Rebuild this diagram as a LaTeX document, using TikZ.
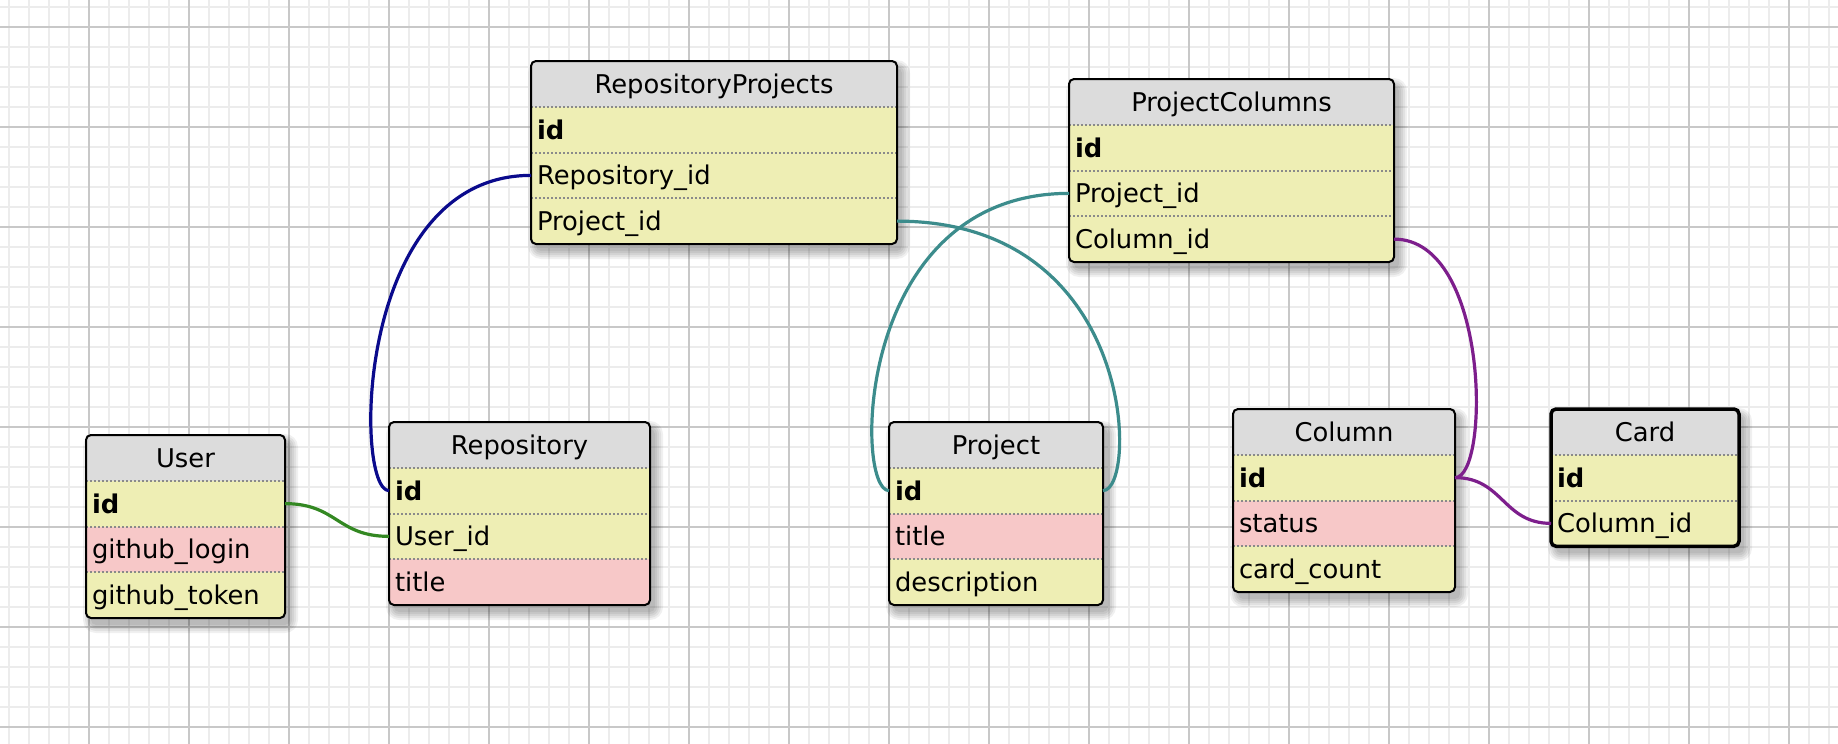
\documentclass[tikz,border=0pt]{standalone}
\usepackage{fontspec}
\setmainfont{DejaVu Sans}
\usetikzlibrary{positioning,calc}
\definecolor{HeadGray}{RGB}{220,220,220}
\definecolor{FieldYellow}{RGB}{238,238,180}
\definecolor{FieldPink}{RGB}{247,200,200}
\definecolor{SepGray}{RGB}{138,138,138}
\definecolor{GridMinor}{RGB}{236,236,236}
\definecolor{GridMajor}{RGB}{200,200,200}
\definecolor{LinkGreen}{RGB}{51,136,34}
\definecolor{LinkNavy}{RGB}{10,10,140}
\definecolor{LinkTeal}{RGB}{60,140,140}
\definecolor{LinkPurple}{RGB}{125,30,140}
\newcommand{\tabfont}{\fontsize{12.9}{15}\selectfont}
\tikzset{
  minorgrid/.style={draw=GridMinor,line width=1pt},
  majorgrid/.style={draw=GridMajor,line width=1pt},
  cell/.style={minimum height=22.875pt,inner xsep=3pt,inner ysep=0pt,
    outer sep=0pt,text height=9.4pt,text depth=0pt,font=\tabfont},
  headcell/.style={cell,fill=HeadGray,align=center},
  keycell/.style={cell,fill=FieldYellow,align=left,font=\tabfont\bfseries},
  fieldcell/.style={cell,fill=FieldYellow,align=left},
  pinkcell/.style={cell,fill=FieldPink,align=left},
  fieldsep/.style={draw=SepGray,line width=1pt,dash pattern=on 1pt off 1pt},
  tableframe/.style={draw=black,line width=1pt,rounded corners=2.5pt},
  link/.style={line width=1.6pt},
  greenlink/.style={link,draw=LinkGreen},
  navylink/.style={link,draw=LinkNavy},
  teallink/.style={link,draw=LinkTeal},
  purplelink/.style={link,draw=LinkPurple}
}
% #1 frame options, #2 name, #3 top left corner, #4 width (px), #5 title, #6 fields
\newcommand{\dbtable}[6][]{%
  \pgfmathsetmacro\tabw{#4/2}%
  \pgfmathsetmacro\txtw{#4/2-6}%
  \foreach \fld/\kind [count=\cnt] in {#6} {\xdef\nrows{\cnt}}%
  \coordinate (#2-nw) at #3;
  \coordinate (#2-se) at ($(#2-nw)+(#4,{-45.75*(\nrows+1)})$);
  % soft shadow
  \foreach \k in {0,...,4} {
    \pgfmathsetmacro\rr{2.5+\k}
    \fill[black,opacity=0.06,rounded corners=\rr pt]
      ($(#2-nw)+({5-2*\k},{-7+2*\k})$) rectangle ($(#2-se)+({5+2*\k},{-7-2*\k})$);
  }
  \begin{scope}
    \clip[rounded corners=2.5pt] (#2-nw) rectangle (#2-se);
    \node[headcell,minimum width=\tabw pt,anchor=north west] (#2-0) at (#2-nw) {#5};
    \foreach \fld/\kind [count=\i, remember=\i as \lasti (initially 0)] in {#6} {
      \node[\kind,minimum width=\tabw pt,text width=\txtw pt,below=0pt of #2-\lasti] (#2-\i) {\fld};
      \draw[fieldsep] (#2-\i.north west) -- (#2-\i.north east);
    }
  \end{scope}
  \draw[tableframe,#1] (#2-nw) rectangle (#2-se);
}

\begin{document}
\begin{tikzpicture}[x=0.5pt,y=0.5pt]
  \useasboundingbox (0,0) rectangle (1838,-744);
  \fill[white] (0,0) rectangle (1838,-744);
  % grid
  \foreach \gx in {9,29,...,1829} \draw[minorgrid] (\gx,0) -- (\gx,-744);
  \foreach \gy in {7,27,...,737} \draw[minorgrid] (0,-\gy) -- (1838,-\gy);
  \foreach \gx in {89,189,...,1789} \draw[majorgrid] (\gx,0) -- (\gx,-744);
  \foreach \gy in {27,127,...,727} \draw[majorgrid] (0,-\gy) -- (1838,-\gy);

  % tables
  \dbtable{user}{(86,-435)}{199}{User}
    {id/keycell, github\_login/pinkcell, github\_token/fieldcell}
  \dbtable{repo}{(389,-422)}{261}{Repository}
    {id/keycell, User\_id/fieldcell, title/pinkcell}
  \dbtable{rproj}{(531,-61)}{366}{RepositoryProjects}
    {id/keycell, Repository\_id/fieldcell, Project\_id/fieldcell}
  \dbtable{pcols}{(1069,-79)}{325}{ProjectColumns}
    {id/keycell, Project\_id/fieldcell, Column\_id/fieldcell}
  \dbtable{project}{(889,-422)}{214}{Project}
    {id/keycell, title/pinkcell, description/fieldcell}
  \dbtable{column}{(1233,-409)}{222}{Column}
    {id/keycell, status/pinkcell, card\_count/fieldcell}
  \dbtable[line width=1.75pt]{card}{(1551,-409)}{188}{Card}
    {id/keycell, Column\_id/fieldcell}

  % relations
  \draw[greenlink] (user-1.east) .. controls +(52,0) and +(-52,0) .. (repo-2.west);
  \draw[navylink] (rproj-2.west) .. controls +(-177,0) and +(-35,0) .. (repo-1.west);
  \draw[teallink] (rproj-3.east) .. controls +(241,0) and +(35,0) .. (project-1.east);
  \draw[teallink] (pcols-2.west) .. controls +(-215,0) and +(-35,0) .. (project-1.west);
  \draw[purplelink] (pcols-3.east) .. controls +(96,0) and +(35,0) .. (column-1.east);
  \draw[purplelink] (column-1.east) .. controls +(48,0) and +(-48,0) .. (card-2.west);
\end{tikzpicture}
\end{document}
